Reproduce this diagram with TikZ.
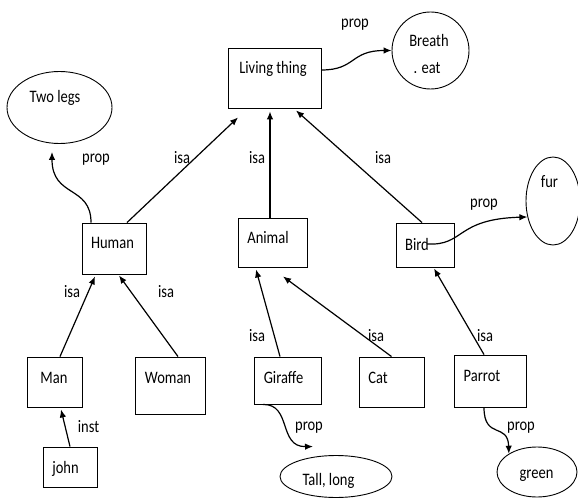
\documentclass[tikz,border=0pt]{standalone}
\usepackage{fontspec}
\setmainfont{Carlito}[FakeStretch=0.83]
\usetikzlibrary{shapes.geometric,arrows.meta}
\begin{document}
\begin{tikzpicture}[x=1pt,y=-1pt,
  box/.style={draw, line width=0.9pt, inner sep=0pt},
  oval/.style={draw, ellipse, line width=0.9pt, inner sep=0pt},
  txt/.style={font=\fontsize{17.5}{20}\selectfont, inner sep=0pt, anchor=base},
  lbl/.style={txt},
  link/.style={line width=1.2pt, -{Latex[length=8pt,width=6.5pt]}}]
\useasboundingbox (0,0) rectangle (578,500);
% nodes
\node[box, minimum width=93pt, minimum height=60pt] (living) at (274.5,78) {};
\node[txt] (living-t) at (273,74) {Living thing};
\node[oval, minimum width=77pt, minimum height=77pt] (breath) at (430.5,50.5) {};
\node[txt] (breath-t) at (429,47) {Breath};
\begin{scope}
  \clip (395,55) rectangle (465,72.5);
  \node[txt] (breath-t2) at (427,74) {. eat};
\end{scope}
\node[oval, minimum width=105pt, minimum height=72pt] (twolegs) at (59.5,107.5) {};
\node[txt] (twolegs-t) at (55,103) {Two legs};
\node[box, minimum width=64pt, minimum height=51pt] (human) at (114,248.5) {};
\node[txt] (human-t) at (112.5,248) {Human};
\node[box, minimum width=69pt, minimum height=49pt] (animal) at (272.5,242.5) {};
\node[txt] (animal-t) at (268,243) {Animal};
\node[box, minimum width=58pt, minimum height=44pt] (bird) at (425,245) {};
\node[txt] (bird-t) at (417,250) {Bird};
\node[oval, minimum width=54pt, minimum height=88pt] (fur) at (553,201) {};
\node[txt] (fur-t) at (549.5,187) {fur};
\node[box, minimum width=55pt, minimum height=50pt] (man) at (54.5,382) {};
\node[txt] (man-t) at (54,383) {Man};
\node[box, minimum width=70pt, minimum height=57pt] (woman) at (170,385.5) {};
\node[txt] (woman-t) at (168,383) {Woman};
\node[box, minimum width=54pt, minimum height=40pt] (john) at (70,467) {};
\node[txt] (john-t) at (65.5,473) {john};
\node[box, minimum width=67pt, minimum height=47pt] (giraffe) at (287.5,380.5) {};
\node[txt] (giraffe-t) at (283.5,383) {Giraffe};
\node[box, minimum width=65pt, minimum height=50pt] (cat) at (391.5,382) {};
\node[txt] (cat-t) at (378,383) {Cat};
\node[box, minimum width=72pt, minimum height=52pt] (parrot) at (490,381) {};
\node[txt] (parrot-t) at (482,381) {Parrot};
\node[oval, minimum width=112pt, minimum height=42pt] (tall) at (336,476.5) {};
\node[txt] (tall-t) at (328.5,485) {Tall, long};
\node[oval, minimum width=80pt, minimum height=50pt] (green) at (537,472) {};
\node[txt] (green-t) at (536.5,478) {green};
% labels
\node[lbl] (l-prop1) at (355,28) {prop};
\node[lbl] (l-prop2) at (96,162) {prop};
\node[lbl] (l-isa1) at (182,163) {isa};
\node[lbl] (l-isa2) at (257,163) {isa};
\node[lbl] (l-isa3) at (383,163) {isa};
\node[lbl] (l-prop3) at (484,207) {prop};
\node[lbl] (l-isa4) at (72,297) {isa};
\node[lbl] (l-isa5) at (166,297) {isa};
\node[lbl] (l-inst) at (88.5,432) {inst};
\node[lbl] (l-isa6) at (257,341) {isa};
\node[lbl] (l-isa7) at (376,341) {isa};
\node[lbl] (l-isa8) at (485,341) {isa};
\node[lbl] (l-prop4) at (309,430) {prop};
\node[lbl] (l-prop5) at (521,430) {prop};
% straight connectors
\draw[link] ([xshift=13pt]human.north) -- ([xshift=-36.5pt,yshift=-9pt]living.south);
\draw[link] ([xshift=-2.5pt]animal.north) -- ([xshift=-4.5pt,yshift=-3pt]living.south);
\draw[link] ([xshift=-3pt]bird.north) -- ([xshift=21.5pt,yshift=-2pt]living.south);
\draw[link] ([xshift=5.5pt]man.north) -- ([xshift=-19pt,yshift=-2pt]human.south);
\draw[link] ([xshift=8pt]woman.north) -- ([xshift=5pt,yshift=-1pt]human.south);
\draw[link] (john.north) -- ([xshift=6.5pt,yshift=-2pt]man.south);
\draw[link] ([xshift=-7.5pt]giraffe.north) -- ([xshift=-16.5pt,yshift=-2pt]animal.south);
\draw[link] (cat.north) -- ([xshift=10.5pt,yshift=-9pt]animal.south);
\draw[link] ([xshift=-6pt]parrot.north) -- ([xshift=9pt,yshift=-1pt]bird.south);
% curved prop connectors
\draw[link] ([yshift=8pt]living.east) .. controls (356,70) and (350,50.5) .. (breath.west);
\draw[link] ([xshift=-23pt]human.north) .. controls (91,185) and (52,198) .. ([xshift=-7.5pt,yshift=-8pt]twolegs.south);
\draw[link] ([xshift=-2pt]bird-t.east) .. controls (465,246) and (455,219) .. (fur.212);
\draw[link] ([xshift=-24.5pt]giraffe.south) .. controls (292,404) and (278,447) .. ([xshift=-23pt,yshift=8.5pt]tall.north);
\draw[link] ([xshift=-6pt]parrot.south) .. controls (484,440) and (508,422) .. (green.147);
\end{tikzpicture}
\end{document}
